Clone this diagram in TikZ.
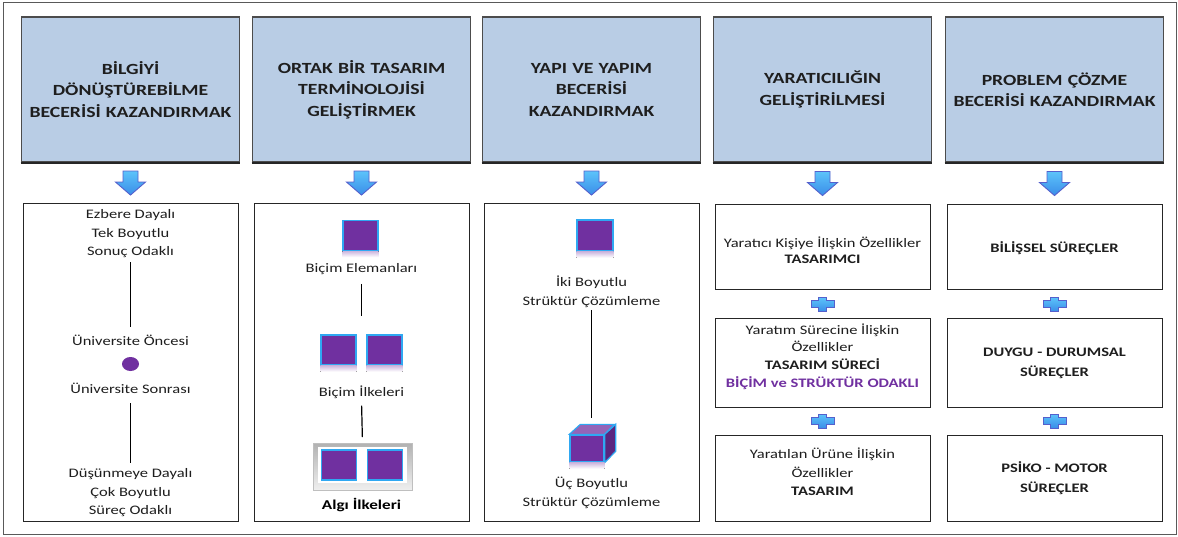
\documentclass[tikz,border=0pt]{standalone}
\usepackage{fontspec}
\setmainfont{Carlito}[FakeStretch=1.27]
\usetikzlibrary{calc,shapes.geometric}

\definecolor{headblue}{HTML}{B9CDE5}
\definecolor{inkgray}{HTML}{1E1E1E}
\definecolor{violet1}{HTML}{7030A0}
\definecolor{edgeblue}{HTML}{2FA8F2}
\definecolor{arrowtop}{HTML}{5CC3FA}
\definecolor{arrowbot}{HTML}{3A8DE8}
\definecolor{arrowedge}{HTML}{5560CC}

\tikzset{
  head/.style={draw=black!70, line width=1.2pt, fill=headblue,
    minimum width=215pt, minimum height=145pt, text width=212pt,
    align=center, text=inkgray,
    font=\fontsize{15.5}{21.5}\selectfont\bfseries},
  headbase/.style={draw=black!85, line width=2pt},
  panel/.style={draw=black!85, line width=1pt, fill=white,
    minimum width=215pt, inner sep=0pt},
  txt/.style={align=center, text=inkgray, inner sep=2pt,
    font=\fontsize{13}{18.5}\selectfont},
  btxt/.style={txt, font=\fontsize{13}{18.5}\selectfont\bfseries},
  link/.style={draw=black, line width=1.2pt},
  psq/.style={draw=edgeblue, fill=violet1, line width=1.3pt,
    minimum width=35pt, minimum height=30pt, inner sep=0pt},
  glow/.style={top color=violet1!35, bottom color=white, draw=none},
  blockdown/.pic={
    \draw[line width=0.9pt, draw=arrowedge, top color=arrowtop, bottom color=arrowbot]
      (-7.5,-12) -- (7.5,-12) -- (7.5,-1) -- (15,-1) -- (0,12)
      -- (-15,-1) -- (-7.5,-1) -- cycle;
  },
  plussign/.pic={
    \draw[line width=1pt, draw=arrowedge, top color=arrowtop, bottom color=arrowbot]
      (-11.5,-3.5) -- (-4,-3.5) -- (-4,-7) -- (4,-7) -- (4,-3.5) -- (11.5,-3.5)
      -- (11.5,3.5) -- (4,3.5) -- (4,7) -- (-4,7) -- (-4,3.5) -- (-11.5,3.5) -- cycle;
  },
}

\begin{document}
\begin{tikzpicture}[x=1pt, y=-1pt]
  \useasboundingbox (0,0) rectangle (1178,537);
  \fill[white] (0,0) rectangle (1178,537);
  \draw[black!65, line width=1pt] (3,3) rectangle (1176,534);

  % ---- headers ----
  \node[head] (h1) at (130.5,89.5) {BİLGİYİ\\DÖNÜŞTÜREBİLME\\BECERİSİ KAZANDIRMAK};
  \node[head] (h2) at (361.5,89.5) {ORTAK BİR TASARIM\\TERMİNOLOJİSİ\\GELİŞTİRMEK};
  \node[head] (h3) at (591.5,89.5) {YAPI VE YAPIM\\BECERİSİ\\KAZANDIRMAK};
  \node[head] (h4) at (822.5,89.5) {YARATICILIĞIN\\GELİŞTİRİLMESİ};
  \node[head] (h5) at (1054.5,89.5) {PROBLEM ÇÖZME\\BECERİSİ KAZANDIRMAK};
  \foreach \h in {h1,h2,h3,h4,h5}
    \draw[headbase] (\h.south west) -- (\h.south east);

  % ---- lower panels ----
  \node[panel, minimum height=317pt] (p1) at (130.5,362.5) {};
  \node[panel, minimum height=317pt] (p2) at (361.5,362.5) {};
  \node[panel, minimum height=317pt] (p3) at (591.5,362.5) {};
  \node[panel, minimum height=85pt] (p4a) at (822.5,247.5) {};
  \node[panel, minimum height=88pt] (p4b) at (822.5,363) {};
  \node[panel, minimum height=86pt] (p4c) at (822.5,478) {};
  \node[panel, minimum height=85pt] (p5a) at (1054.5,247.5) {};
  \node[panel, minimum height=88pt] (p5b) at (1054.5,363) {};
  \node[panel, minimum height=86pt] (p5c) at (1054.5,478) {};

  % ---- block arrows between header and panel ----
  \pic at ($(h1.south)!0.5!(p1.north)$) {blockdown};
  \pic at ($(h2.south)!0.5!(p2.north)$) {blockdown};
  \pic at ($(h3.south)!0.5!(p3.north)$) {blockdown};
  \pic at ($(h4.south)!0.5!(p4a.north)$) {blockdown};
  \pic at ($(h5.south)!0.5!(p5a.north)$) {blockdown};

  % ---- plus signs ----
  \pic at ($(p4a.south)!0.5!(p4b.north)$) {plussign};
  \pic at ($(p4b.south)!0.5!(p4c.north)$) {plussign};
  \pic at ($(p5a.south)!0.5!(p5b.north)$) {plussign};
  \pic at ($(p5b.south)!0.5!(p5c.north)$) {plussign};

  % ---- column 1 ----
  \node[txt] (c1a) at (130.5,234) {Ezbere Dayalı\\Tek Boyutlu\\Sonuç Odaklı};
  \node[txt] (c1b) at (130.5,340) {Üniversite Öncesi};
  \node[fill=violet1, ellipse, minimum width=17pt, minimum height=14pt, inner sep=0pt] (dot) at (130.5,364) {};
  \node[txt] (c1c) at (130.5,388) {Üniversite Sonrası};
  \node[txt] (c1d) at (130.5,493) {Düşünmeye Dayalı\\Çok Boyutlu\\Süreç Odaklı};
  \draw[link, shorten <=2pt, shorten >=6pt] (c1a.south) -- (c1b.north);
  \draw[link, shorten <=8pt, shorten >=4pt] (c1c.south) -- (c1d.north);

  % ---- column 2 ----
  \node[psq] (s1) at (360.5,235.5) {};
  \fill[glow] (s1.south west) rectangle ($(s1.south east)+(0,6)$);
  \node[txt] (c2a) at (361.5,269) {Biçim Elemanları};
  \node[psq] (s2) at (338.5,350) {};
  \node[psq] (s3) at (384.5,350) {};
  \fill[glow] (s2.south west) rectangle ($(s2.south east)+(0,6)$);
  \fill[glow] (s3.south west) rectangle ($(s3.south east)+(0,6)$);
  \coordinate (pairtop) at ($(s2.north)!0.5!(s3.north)$);
  \node[txt] (c2b) at (361.5,392) {Biçim İlkeleri};
  % framed pair
  \node[draw=black!25, line width=0.6pt, top color=black!30, bottom color=black!6,
        minimum width=99pt, minimum height=47pt, inner sep=0pt] (frame) at (362.5,467) {};
  \fill[white] ($(frame.north west)+(5,4)$) rectangle ($(frame.south east)+(-5,-8)$);
  \node[psq] (s4) at (339,465) {};
  \node[psq] (s5) at (385,465) {};
  \node[btxt, font=\fontsize{13.5}{18.5}\selectfont\bfseries, text=black] (c2c) at (361.5,505) {Algı İlkeleri};
  \draw[link, shorten <=7pt, shorten >=18pt] (c2a.south) -- (pairtop);
  \draw[link, shorten <=5pt, shorten >=6pt] (c2b.south) -- (frame.north);

  % ---- column 3 ----
  \node[psq, minimum width=36pt, minimum height=31pt] (s6) at (595,235.5) {};
  \fill[glow] (s6.south west) rectangle ($(s6.south east)+(0,6)$);
  \node[txt] (c3a) at (591.5,292) {İki Boyutlu\\Strüktür Çözümleme};
  \node[psq, minimum width=34pt, minimum height=27pt] (cube) at (587,448.5) {};
  \draw[edgeblue, line width=1.2pt, fill=violet1!75] (cube.north west) -- ++(11,-10) -- ++(34,0) -- (cube.north east) -- cycle;
  \draw[edgeblue, line width=1.2pt, fill=violet1!80!black] (cube.north east) -- ++(11,-10) -- ++(0,27) -- (cube.south east) -- cycle;
  \fill[glow] (cube.south west) rectangle ($(cube.south east)+(0,6)$);
  \node[txt] (c3b) at (591.5,493) {Üç Boyutlu\\Strüktür Çözümleme};
  \draw[link, shorten <=0pt, shorten >=16pt] (c3a.south) -- (c3a.south |- cube.north);

  % ---- column 4 ----
  \node[txt, font=\fontsize{13}{15.5}\selectfont] (t4a) at (822.5,250)
    {Yaratıcı Kişiye İlişkin Özellikler\\\textbf{TASARIMCI}};
  \node[txt, font=\fontsize{13}{17.8}\selectfont] (t4b) at (822.5,356.5)
    {Yaratım Sürecine İlişkin\\Özellikler\\\textbf{TASARIM SÜRECİ}\\\textbf{\textcolor{violet1}{BİÇİM ve STRÜKTÜR ODAKLI}}};
  \node[txt, font=\fontsize{13}{18.5}\selectfont] (t4c) at (822.5,472)
    {Yaratılan Ürüne İlişkin\\Özellikler\\\textbf{TASARIM}};

  % ---- column 5 ----
  \node[btxt] (t5a) at (1054.5,248) {BİLİŞSEL SÜREÇLER};
  \node[btxt, font=\fontsize{13}{20}\selectfont\bfseries] (t5b) at (1054.5,363) {DUYGU - DURUMSAL\\SÜREÇLER};
  \node[btxt, font=\fontsize{13}{20}\selectfont\bfseries] (t5c) at (1054.5,478) {PSİKO - MOTOR\\SÜREÇLER};
\end{tikzpicture}
\end{document}
